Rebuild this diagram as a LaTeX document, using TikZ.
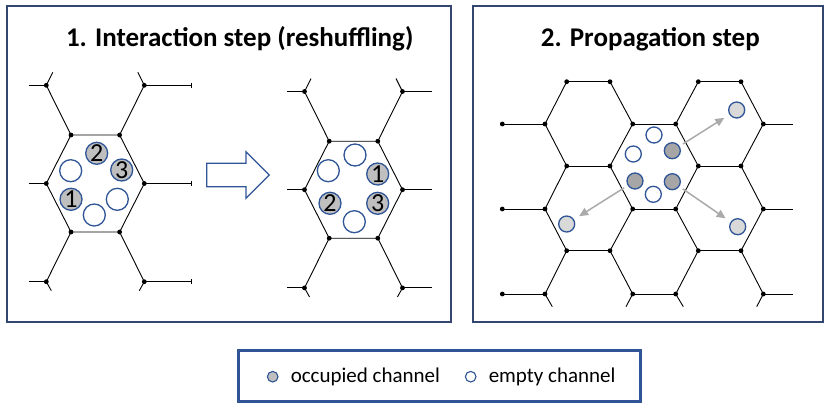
\documentclass[tikz,border=0pt]{standalone}
\usepackage{fontspec}
\setmainfont{Carlito}
\usepackage{tikz}
\usetikzlibrary{arrows.meta,positioning}
\definecolor{panelblue}{RGB}{50,70,112}
\definecolor{channelblue}{RGB}{47,85,151}
\definecolor{occupiedgrey}{RGB}{191,191,191}
\definecolor{movinggrey}{RGB}{166,166,166}
\definecolor{arrivedgrey}{RGB}{217,217,217}
\definecolor{hopgrey}{RGB}{170,170,170}

\begin{document}
\begin{tikzpicture}[x=1pt,y=-1pt,
        lattice/.style={black,line width=0.9pt},
        panel/.style={draw=panelblue,line width=1.8pt},
        title/.style={font=\fontsize{27}{32}\selectfont\bfseries,inner sep=0pt,anchor=base},
        chan/.style={circle,draw=channelblue,line width=1.3pt,fill=white,inner sep=0pt,
            minimum size=22pt,font=\fontsize{26}{26}\selectfont},
        occ/.style={chan,fill=occupiedgrey},
        small/.style={chan,minimum size=16pt},
        hop/.style={hopgrey,line width=1.5pt,-{Triangle[length=9pt,width=8pt]},
            shorten <=4pt,shorten >=6pt},
        legtext/.style={font=\fontsize{21}{25}\selectfont,inner sep=0pt}]
        \useasboundingbox (0,0) rectangle (830,413);

        % Panels
        \draw[panel] (7,6) rectangle (451,321.7);
        \draw[panel] (473.3,6) rectangle (823,321.7);
        \node[title] (t1) at (239.7,46.7) {1. Interaction step (reshuffling)};
        \node[title] (t2) at (650.3,46.7) {2. Propagation step};

        % Interaction step: the cell before and after
        \foreach \cx/\cy/\rl in {95.3/183.5/96.4,353.5/189.7/78.8}
        {
            \begin{scope}[shift={(\cx,\cy)}]
                \draw[lattice] (-24.3,-48.5) -- (24.3,-48.5) -- (49,0) -- (24.3,48.5)
                    -- (-24.3,48.5) -- (-49,0) -- cycle;
                \draw[lattice] (-24.3,-48.5) -- (-49,-98.2) -- (-42.5,-111.2)
                    (24.3,-48.5) -- (49,-98.2) -- (42.5,-111.2)
                    (-24.3,48.5) -- (-49,98.2) -- (-44,107.2)
                    (24.3,48.5) -- (49,98.2) -- (44,107.2);
                \foreach \y in {-98.2,0,98.2}
                    \draw[lattice] (-66.5,\y) -- (-49,\y) (49,\y) -- (\rl,\y);
                \foreach \x/\y in {-24.3/-48.5,24.3/-48.5,-49/0,49/0,-24.3/48.5,24.3/48.5,
                        -49/-98.2,49/-98.2,-49/98.2,49/98.2}
                    \fill (\x,\y) circle (2.4pt);
            \end{scope}
        }
        \foreach \y in {85.3,183.5,281.7}
            \draw[line width=1.2pt] (191.7,{\y-2.5}) -- (191.7,{\y+2.5});

        % Channels before
        \node[occ] (b1) at (71,199.3) {1};
        \node[occ] (b2) at (96.7,153.3) {2};
        \node[occ] (b3) at (121.7,170) {3};
        \node[chan] (be1) at (70.7,170.7) {};
        \node[chan] (be2) at (117.3,199.3) {};
        \node[chan] (be3) at (94.3,215) {};

        % Reshuffle arrow
        \draw[channelblue,line width=1.3pt,fill=white] (206.7,163.3) -- (246,163.3) -- (246,151.7)
            -- (269.3,175) -- (246,198.3) -- (246,186.7) -- (206.7,186.7) -- cycle;

        % Channels after
        \node[occ] (a1) at (377.7,174) {1};
        \node[occ] (a2) at (330,203.3) {2};
        \node[occ] (a3) at (377.7,203.3) {3};
        \node[chan] (ae1) at (355,155) {};
        \node[chan] (ae2) at (328.3,170.7) {};
        \node[chan] (ae3) at (354.3,221.7) {};

        % Propagation step: honeycomb
        \foreach \y in {81.7,166,250.7}
            \draw[lattice] (566.7,\y) -- (610,\y) (698.3,\y) -- (741,\y);
        \foreach \y in {124,209,294}
            \draw[lattice] (502.3,\y) -- (545,\y) (632.7,\y) -- (675.7,\y) (763.3,\y) -- (793.3,\y);
        \foreach \ya/\yb in {81.7/124,166/209,250.7/294}
            \draw[lattice] (566.7,\ya) -- (545,\yb) (610,\ya) -- (632.7,\yb)
                (698.3,\ya) -- (675.7,\yb) (741,\ya) -- (763.3,\yb);
        \foreach \ya/\yb in {124/166,209/250.7}
            \draw[lattice] (545,\ya) -- (566.7,\yb) (632.7,\ya) -- (610,\yb)
                (675.7,\ya) -- (698.3,\yb) (763.3,\ya) -- (741,\yb);
        \draw[lattice] (545,294) -- (552.3,306.7) (632.7,294) -- (626,306.7)
            (675.7,294) -- (683.3,306.7) (763.3,294) -- (756.7,306.7);
        \foreach \y in {81.7,166,250.7}
            \foreach \x in {566.7,610,698.3,741}
                \fill (\x,\y) circle (2.4pt);
        \foreach \y in {124,209,294}
            \foreach \x in {502.3,545,632.7,675.7,763.3}
                \fill (\x,\y) circle (2.4pt);

        % Channels and hops
        \node[small] (pe1) at (654,135) {};
        \node[small] (pe2) at (633.3,154) {};
        \node[small] (pe3) at (653.3,194.3) {};
        \node[small,fill=movinggrey] (p1) at (672.3,150.7) {};
        \node[small,fill=movinggrey] (p2) at (635,181) {};
        \node[small,fill=movinggrey] (p3) at (672.3,181.7) {};
        \node[small,fill=arrivedgrey] (d1) at (736.7,110) {};
        \node[small,fill=arrivedgrey] (d2) at (566.7,224) {};
        \node[small,fill=arrivedgrey] (d3) at (737.7,226.7) {};
        \draw[hop] (p1) -- (d1);
        \draw[hop] (p2) -- (d2);
        \draw[hop] (p3) -- (d3);

        % Legend
        \draw[draw=channelblue,line width=3pt] (238,350) rectangle (640,401.7);
        \node[chan,fill=occupiedgrey,minimum size=10.6pt,line width=1.1pt] (lo) at (272.7,376.7) {};
        \node[legtext,right=12pt of lo] (lot) {occupied channel};
        \node[chan,minimum size=10.6pt,line width=1.1pt] (le) at (470.7,376.7) {};
        \node[legtext,right=12pt of le] (let) {empty channel};
    \end{tikzpicture}
\end{document}
